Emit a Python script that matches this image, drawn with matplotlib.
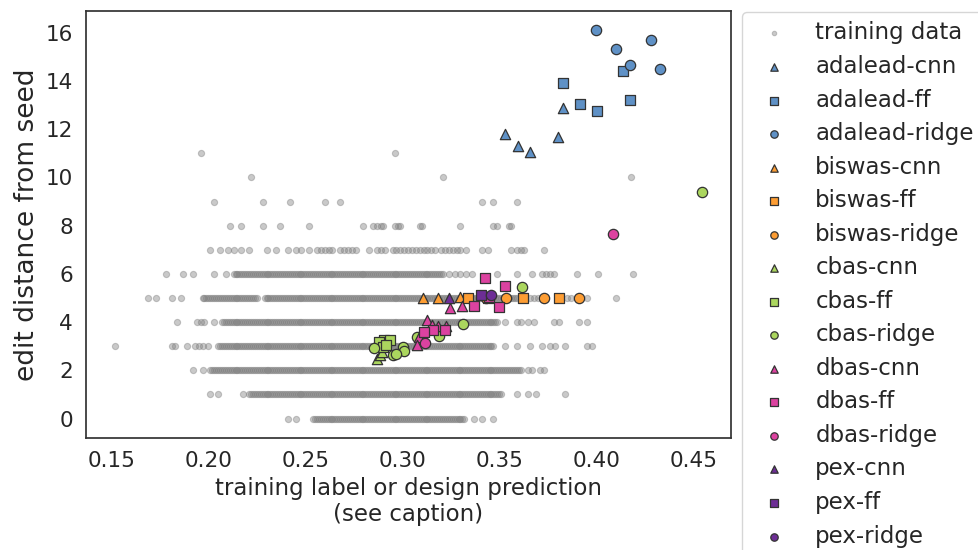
import numpy as np
import matplotlib
matplotlib.use("Agg")
import matplotlib.pyplot as plt
import seaborn as sns

# training data: x values (in thousandths) per edit-distance row
train_x_0 = [241, 245,
             254, 255, 256, 257, 258, 259,
             260, 261, 262, 263, 264, 265, 266, 267, 268, 269,
             270, 271, 272, 273, 274, 275, 276, 277, 278, 279,
             280, 281, 282, 283, 284, 285, 286, 287, 288, 289,
             290, 291, 292, 293, 294, 295, 296, 297, 298, 299,
             300, 301, 302, 303, 304, 305, 306, 307, 308, 309,
             310, 311, 312, 313, 314, 315, 316, 317, 318, 319,
             320, 321, 322, 323, 324, 325, 326, 327, 328, 329,
             330, 331, 332,
             337, 341, 347]
train_x_1 = [201, 205, 218,
             221, 222, 223, 224, 225, 226, 227, 228, 229,
             230, 231, 232, 233, 234, 235, 236, 237, 238, 239,
             240, 241, 242, 243, 244, 245, 246, 247, 248, 249,
             250, 251, 252, 253, 254, 255, 256, 257, 258, 259,
             260, 261, 262, 263, 264, 265, 266, 267, 268, 269,
             270, 271, 272, 273, 274, 275, 276, 277, 278, 279,
             280, 281, 282, 283, 284, 285, 286, 287, 288, 289,
             290, 291, 292, 293, 294, 295, 296, 297, 298, 299,
             300, 301, 302, 303, 304, 305, 306, 307, 308, 309,
             310, 311, 312, 313, 314, 315, 316, 317, 318, 319,
             320, 321, 322, 323, 324, 325, 326, 327, 328, 329,
             330, 331, 332, 333, 334, 335, 336, 337, 338, 339,
             340, 341, 342, 343, 344, 345, 346, 347, 348, 349,
             350, 351,
             359, 365, 369, 384]
train_x_2 = [192, 197,
             201, 202, 203, 204, 205, 206, 207, 208, 209,
             210, 211, 212, 213, 214, 215, 216, 217, 218, 219,
             220, 221, 222, 223, 224, 225, 226, 227, 228, 229,
             230, 231, 232, 233, 234, 235, 236, 237, 238, 239,
             240, 241, 242, 243, 244, 245, 246, 247, 248, 249,
             250, 251, 252, 253, 254, 255, 256, 257, 258, 259,
             260, 261, 262, 263, 264, 265, 266, 267, 268, 269,
             270, 271, 272, 273, 274, 275, 276, 277, 278, 279,
             280, 281, 282, 283, 284, 285, 286, 287, 288, 289,
             290, 291, 292, 293, 294, 295, 296, 297, 298, 299,
             300, 301, 302, 303, 304, 305, 306, 307, 308, 309,
             310, 311, 312, 313, 314, 315, 316, 317, 318, 319,
             320, 321, 322, 323, 324, 325, 326, 327, 328, 329,
             330, 331, 332, 333, 334, 335, 336, 337, 338, 339,
             340, 341, 342, 343, 344, 345, 346, 347, 348, 349,
             350, 351, 352, 353, 354, 355, 356, 357, 358, 359,
             360, 361,
             365, 367, 371, 373]
train_x_3 = [152, 181, 183, 189, 193, 195, 197, 200,
             205, 206, 207, 208, 209,
             210, 211, 212, 213, 214, 215, 216, 217, 218, 219,
             220, 221, 222, 223, 224, 225, 226, 227, 228, 229,
             230, 231, 232, 233, 234, 235, 236, 237, 238, 239,
             240, 241, 242, 243, 244, 245, 246, 247, 248, 249,
             250, 251, 252, 253, 254, 255, 256, 257, 258, 259,
             260, 261, 262, 263, 264, 265, 266, 267, 268, 269,
             270, 271, 272, 273, 274, 275, 276, 277, 278, 279,
             280, 281, 282, 283, 284, 285, 286, 287, 288, 289,
             290, 291, 292, 293, 294, 295, 296, 297, 298, 299,
             300, 301, 302, 303, 304, 305, 306, 307, 308, 309,
             310, 311, 312, 313, 314, 315, 316, 317, 318, 319,
             320, 321, 322, 323, 324, 325, 326, 327, 328, 329,
             330, 331, 332, 333, 334, 335, 336, 337, 338, 339,
             340, 341, 342, 343, 344, 345, 346, 347,
             353, 359, 366, 372, 376, 379, 384, 395, 398]
train_x_4 = [184, 194, 196, 198, 203,
             207, 208, 209,
             210, 211, 212, 213, 214, 215, 216, 217, 218, 219,
             220, 221, 222, 223, 224, 225, 226, 227, 228, 229,
             230, 231, 232, 233, 234, 235, 236, 237, 238, 239,
             240, 241, 242, 243, 244, 245, 246, 247, 248, 249,
             250, 251, 252, 253, 254, 255, 256, 257, 258, 259,
             260, 261, 262, 263, 264, 265, 266, 267, 268, 269,
             270, 271, 272, 273, 274, 275, 276, 277, 278, 279,
             280, 281, 282, 283, 284, 285, 286, 287, 288, 289,
             290, 291, 292, 293, 294, 295, 296, 297, 298, 299,
             300, 301, 302, 303, 304, 305, 306, 307, 308, 309,
             310, 311, 312, 313, 314, 315, 316, 317, 318, 319,
             320, 321, 322, 323, 324, 325, 326, 327, 328, 329,
             330, 331, 332, 333, 334, 335, 336, 337, 338, 339,
             340, 341, 342, 343, 344, 345, 346, 347, 348, 349,
             353, 359, 361, 365, 368, 378, 381, 391, 395]
train_x_5 = [169, 173, 181, 186,
             197, 198, 199,
             200, 201, 202, 203, 204, 205, 206, 207, 208, 209,
             210, 211, 212, 213, 214, 215, 216, 217, 218, 219,
             220, 221, 222, 223, 224, 225,
             229,
             230, 231, 232, 233, 234, 235, 236, 237, 238, 239,
             240, 241, 242, 243, 244, 245, 246, 247, 248, 249,
             250, 251, 252, 253, 254, 255, 256, 257, 258, 259,
             260, 261, 262, 263, 264, 265, 266, 267, 268, 269,
             270, 271, 272, 273, 274, 275, 276, 277, 278, 279,
             280, 281, 282, 283, 284, 285, 286, 287, 288, 289,
             290, 291, 292, 293, 294, 295, 296, 297, 298, 299,
             300, 301, 302, 303, 304, 305, 306, 307, 308, 309,
             310, 311, 312, 313, 314, 315, 316, 317, 318, 319,
             320, 321, 322, 323, 324, 325, 326, 327, 328, 329,
             330, 331, 332, 333, 334, 335, 336, 337, 338, 339,
             340, 341, 342, 343, 344, 345, 346, 347, 348, 349,
             350, 351, 352, 353, 354, 355, 356, 357, 358, 359,
             366, 368, 370, 385, 387, 395, 410]
train_x_6 = [178, 187, 192, 203, 209,
             213, 214, 215, 216, 217, 218, 219,
             220, 221, 222, 223, 224, 225, 226, 227, 228, 229,
             230, 231, 232, 233, 234, 235, 236, 237, 238, 239,
             240, 241, 242, 243, 244, 245, 246, 247, 248, 249,
             250, 251, 252, 253, 254, 255, 256, 257, 258, 259,
             260, 261, 262, 263, 264, 265, 266, 267, 268, 269,
             270, 271, 272, 273, 274, 275, 276, 277, 278, 279,
             280, 281, 282, 283, 284, 285, 286, 287, 288, 289,
             290, 291, 292, 293, 294, 295, 296, 297, 298, 299,
             300, 301, 302, 303, 304, 305, 306, 307, 308, 309,
             310, 311, 312, 313, 314, 315, 316, 317, 318, 319,
             320, 321,
             324, 327, 330, 333, 336,
             349, 359, 367, 372, 374, 376, 378, 390, 401, 419]
train_x_7 = [201, 206, 210, 213, 217, 221, 230, 235, 241, 245, 248, 252,
             256, 258, 260, 262, 264, 268, 270, 272, 274, 276, 283, 287, 289, 291, 295, 297, 299, 301,
             303, 305, 307, 309, 311, 313, 315, 317, 320, 322, 324, 326, 328, 330, 333,
             341, 344, 356, 359, 361, 363, 373]
train_x_8 = [211, 217, 228, 237, 252, 280, 285, 287, 289, 290, 296, 298, 299, 309, 310, 330, 347,
             349, 355, 356]
train_x_9 = [203, 228, 242, 260, 268, 341, 347, 359]
train_x_10 = [222, 321, 418]
train_x_11 = [196, 296]
train_rows = [train_x_0, train_x_1, train_x_2, train_x_3, train_x_4, train_x_5,
              train_x_6, train_x_7, train_x_8, train_x_9, train_x_10, train_x_11]

# designs: (prediction, edit distance)
adalead_cnn_x = [0.3831, 0.3529, 0.3802, 0.3597, 0.3659]
adalead_cnn_y = [12.88, 11.81, 11.70, 11.31, 11.06]
adalead_ff_x = [0.4139, 0.3829, 0.4173, 0.3914, 0.4003]
adalead_ff_y = [14.43, 13.92, 13.21, 13.06, 12.77]
adalead_ridge_x = [0.3998, 0.4285, 0.4101, 0.4175, 0.4328]
adalead_ridge_y = [16.10, 15.72, 15.33, 14.67, 14.51]
biswas_cnn_x = [0.3105, 0.3182, 0.3300]
biswas_cnn_y = [4.99, 4.99, 5.03]
biswas_ff_x = [0.3337, 0.3440, 0.3620, 0.3806]
biswas_ff_y = [5.02, 5.00, 5.01, 5.01]
biswas_ridge_x = [0.3431, 0.3533, 0.3731, 0.3909]
biswas_ridge_y = [5.00, 5.00, 5.00, 5.00]
cbas_cnn_x = [0.2869, 0.2886, 0.2893]
cbas_cnn_y = [2.49, 2.63, 2.77]
cbas_ff_x = [0.2907, 0.2938, 0.2881, 0.2898, 0.2915]
cbas_ff_y = [3.25, 3.25, 3.18, 2.97, 3.05]
cbas_ridge_x = [0.2852, 0.2953, 0.3002, 0.3010, 0.2967, 0.3074, 0.3187, 0.3311, 0.3617, 0.4544]
cbas_ridge_y = [2.91, 2.63, 2.97, 2.80, 2.66, 3.39, 3.42, 3.93, 5.44, 9.40]
dbas_cnn_x = [0.3307, 0.3245, 0.3127, 0.3153, 0.3185, 0.3228, 0.3101, 0.3087, 0.3074]
dbas_cnn_y = [4.67, 4.60, 4.08, 3.90, 3.85, 3.85, 3.57, 3.39, 3.07]
dbas_ff_x = [0.3427, 0.3530, 0.3371, 0.3500, 0.3446, 0.3159, 0.3221, 0.3113]
dbas_ff_y = [5.83, 5.50, 4.67, 4.62, 5.05, 3.67, 3.67, 3.60]
dbas_ridge_x = [0.3118, 0.4089]
dbas_ridge_y = [3.14, 7.66]
pex_cnn_x = [0.3239]
pex_cnn_y = [4.99]
pex_ff_x = [0.3405]
pex_ff_y = [5.13]
pex_ridge_x = [0.3457]
pex_ridge_y = [5.11]

methods = ["adalead", "biswas", "cbas", "dbas", "pex"]
models = ["cnn", "ff", "ridge"]
method_colors = {"adalead": "#5f91c6", "biswas": "#fd9d33", "cbas": "#abd65e",
                 "dbas": "#dc42a0", "pex": "#6d2e95"}
model_markers = {"cnn": "^", "ff": "s", "ridge": "o"}

designs = {
    ("adalead", "cnn"): (adalead_cnn_x, adalead_cnn_y),
    ("adalead", "ff"): (adalead_ff_x, adalead_ff_y),
    ("adalead", "ridge"): (adalead_ridge_x, adalead_ridge_y),
    ("biswas", "cnn"): (biswas_cnn_x, biswas_cnn_y),
    ("biswas", "ff"): (biswas_ff_x, biswas_ff_y),
    ("biswas", "ridge"): (biswas_ridge_x, biswas_ridge_y),
    ("cbas", "cnn"): (cbas_cnn_x, cbas_cnn_y),
    ("cbas", "ff"): (cbas_ff_x, cbas_ff_y),
    ("cbas", "ridge"): (cbas_ridge_x, cbas_ridge_y),
    ("dbas", "cnn"): (dbas_cnn_x, dbas_cnn_y),
    ("dbas", "ff"): (dbas_ff_x, dbas_ff_y),
    ("dbas", "ridge"): (dbas_ridge_x, dbas_ridge_y),
    ("pex", "cnn"): (pex_cnn_x, pex_cnn_y),
    ("pex", "ff"): (pex_ff_x, pex_ff_y),
    ("pex", "ridge"): (pex_ridge_x, pex_ridge_y),
}

sns.set_theme(style="white")
plt.rcParams["font.family"] = ["DejaVu Sans"]

fig = plt.figure(figsize=(9.79, 5.5), dpi=100)
ax = fig.add_axes([0.0878, 0.2036, 0.6589, 0.7764])

tx = np.concatenate([np.array(row) / 1000 for row in train_rows])
ty = np.concatenate([np.full(len(row), i) for i, row in enumerate(train_rows)])
ax.scatter(tx, ty, s=20, c="gray", alpha=0.42, linewidths=0.8, label="training data")

for method in methods:
    for model in models:
        x, y = designs[(method, model)]
        ax.scatter(x, y, s=55, marker=model_markers[model], c=method_colors[method],
                   edgecolors="#333333", linewidths=0.9, label=f"{method}-{model}")

ax.set_xlabel("training label or design prediction\n(see caption)", fontsize=16.5)
ax.set_ylabel("edit distance from seed", fontsize=19)
ax.set_xticks([0.15, 0.20, 0.25, 0.30, 0.35, 0.40, 0.45])
ax.set_yticks([0, 2, 4, 6, 8, 10, 12, 14, 16])
ax.tick_params(labelsize=15.5)
for sp in ax.spines.values():
    sp.set_color("#333333")

ax.legend(loc="upper left", bbox_to_anchor=(1.017, 0.997), borderaxespad=0,
          fontsize=16.5, labelspacing=0.46, markerscale=0.72, frameon=True, edgecolor="0.8")

fig.savefig("out.png", dpi=100)
